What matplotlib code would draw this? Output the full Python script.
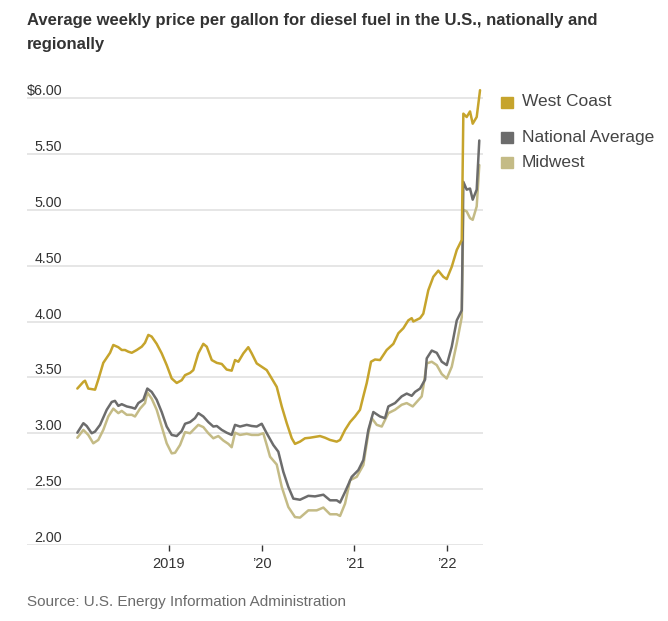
import matplotlib
matplotlib.use("Agg")
import matplotlib.pyplot as plt

# ---------------- data (decimal years, $/gallon) ----------------
wc_t = [2018.011, 2018.076, 2018.094, 2018.129, 2018.202, 2018.237, 2018.291, 2018.364, 2018.399,
        2018.453, 2018.490, 2018.525, 2018.561, 2018.598, 2018.652, 2018.706, 2018.741, 2018.777,
        2018.813, 2018.867, 2018.921, 2018.975, 2019.029, 2019.083, 2019.137, 2019.173, 2019.227,
        2019.262, 2019.316, 2019.370, 2019.407, 2019.461, 2019.515, 2019.569, 2019.622, 2019.676,
        2019.712, 2019.748, 2019.802, 2019.855, 2019.892, 2019.946, 2020.000, 2020.054, 2020.108,
        2020.162, 2020.216, 2020.270, 2020.324, 2020.359, 2020.413, 2020.467, 2020.521, 2020.629,
        2020.683, 2020.737, 2020.809, 2020.845, 2020.899, 2020.953, 2021.006, 2021.060, 2021.096,
        2021.133, 2021.179, 2021.222, 2021.276, 2021.348, 2021.420, 2021.474, 2021.528, 2021.581,
        2021.618, 2021.635, 2021.708, 2021.743, 2021.797, 2021.851, 2021.905, 2021.959, 2021.996,
        2022.050, 2022.104, 2022.158, 2022.175, 2022.211, 2022.247, 2022.276, 2022.319, 2022.355]
wc_v = [3.40, 3.46, 3.47, 3.40, 3.39, 3.48, 3.63, 3.72, 3.79,
        3.77, 3.745, 3.745, 3.73, 3.72, 3.745, 3.775, 3.81, 3.88,
        3.865, 3.80, 3.715, 3.61, 3.49, 3.45, 3.475, 3.52, 3.54,
        3.565, 3.715, 3.80, 3.775, 3.655, 3.63, 3.62, 3.57, 3.56,
        3.655, 3.64, 3.715, 3.77, 3.715, 3.625, 3.595, 3.565, 3.49,
        3.415, 3.24, 3.09, 2.955, 2.905, 2.925, 2.955, 2.96, 2.975,
        2.96, 2.94, 2.925, 2.94, 3.03, 3.10, 3.15, 3.21, 3.33,
        3.45, 3.64, 3.66, 3.655, 3.745, 3.80, 3.895, 3.94, 4.01,
        4.03, 4.00, 4.03, 4.07, 4.28, 4.40, 4.455, 4.40, 4.38,
        4.49, 4.64, 4.73, 5.86, 5.83, 5.88, 5.77, 5.83, 6.07]

nat_t = [2018.011, 2018.076, 2018.112, 2018.166, 2018.202, 2018.256, 2018.328, 2018.382, 2018.417,
         2018.453, 2018.490, 2018.544, 2018.598, 2018.633, 2018.669, 2018.723, 2018.766, 2018.813,
         2018.867, 2018.921, 2018.975, 2019.029, 2019.083, 2019.137, 2019.173, 2019.227, 2019.280,
         2019.316, 2019.370, 2019.424, 2019.478, 2019.515, 2019.569, 2019.622, 2019.676, 2019.712,
         2019.766, 2019.838, 2019.892, 2019.946, 2020.000, 2020.054, 2020.125, 2020.179, 2020.233,
         2020.287, 2020.341, 2020.413, 2020.503, 2020.575, 2020.665, 2020.737, 2020.809, 2020.845,
         2020.899, 2020.971, 2021.042, 2021.096, 2021.150, 2021.204, 2021.276, 2021.330, 2021.366,
         2021.438, 2021.510, 2021.564, 2021.618, 2021.654, 2021.708, 2021.762, 2021.780, 2021.834,
         2021.888, 2021.942, 2021.996, 2022.050, 2022.104, 2022.158, 2022.175, 2022.211, 2022.247,
         2022.276, 2022.319, 2022.347]
nat_v = [3.005, 3.09, 3.065, 3.00, 3.015, 3.075, 3.21, 3.28, 3.29,
         3.245, 3.26, 3.24, 3.23, 3.22, 3.27, 3.30, 3.40, 3.37,
         3.30, 3.19, 3.06, 2.985, 2.975, 3.02, 3.085, 3.10, 3.135,
         3.18, 3.15, 3.10, 3.06, 3.065, 3.03, 3.005, 2.985, 3.075,
         3.06, 3.075, 3.065, 3.06, 3.085, 3.00, 2.895, 2.835, 2.655,
         2.52, 2.415, 2.405, 2.44, 2.435, 2.45, 2.40, 2.40, 2.38,
         2.475, 2.61, 2.67, 2.76, 3.03, 3.19, 3.15, 3.135, 3.24,
         3.27, 3.33, 3.355, 3.335, 3.37, 3.40, 3.48, 3.67, 3.74,
         3.72, 3.64, 3.61, 3.775, 4.01, 4.10, 5.25, 5.18, 5.19,
         5.09, 5.18, 5.62]

mw_t = [2018.011, 2018.076, 2018.129, 2018.183, 2018.237, 2018.291, 2018.345, 2018.399, 2018.453,
        2018.490, 2018.544, 2018.598, 2018.633, 2018.687, 2018.741, 2018.766, 2018.813, 2018.867,
        2018.921, 2018.975, 2019.029, 2019.065, 2019.119, 2019.173, 2019.227, 2019.280, 2019.316,
        2019.370, 2019.424, 2019.478, 2019.532, 2019.586, 2019.640, 2019.676, 2019.712, 2019.766,
        2019.838, 2019.892, 2019.963, 2020.017, 2020.054, 2020.090, 2020.162, 2020.216, 2020.287,
        2020.359, 2020.413, 2020.503, 2020.593, 2020.665, 2020.737, 2020.809, 2020.845, 2020.899,
        2020.953, 2021.025, 2021.096, 2021.150, 2021.187, 2021.241, 2021.295, 2021.366, 2021.438,
        2021.510, 2021.564, 2021.629, 2021.672, 2021.726, 2021.743, 2021.780, 2021.834, 2021.888,
        2021.942, 2021.996, 2022.050, 2022.104, 2022.158, 2022.175, 2022.211, 2022.247, 2022.276,
        2022.319, 2022.347]
mw_v = [2.96, 3.03, 2.985, 2.91, 2.94, 3.03, 3.15, 3.22, 3.18,
        3.20, 3.165, 3.165, 3.15, 3.22, 3.27, 3.365, 3.31, 3.21,
        3.06, 2.91, 2.82, 2.825, 2.895, 3.01, 3.00, 3.045, 3.075,
        3.055, 3.00, 2.955, 2.975, 2.935, 2.905, 2.875, 3.005, 2.985,
        2.995, 2.985, 2.985, 3.00, 2.895, 2.79, 2.72, 2.52, 2.34,
        2.25, 2.245, 2.31, 2.31, 2.335, 2.275, 2.275, 2.26, 2.37,
        2.58, 2.61, 2.715, 3.00, 3.135, 3.075, 3.06, 3.18, 3.21,
        3.255, 3.27, 3.24, 3.28, 3.33, 3.415, 3.625, 3.64, 3.61,
        3.53, 3.49, 3.595, 3.805, 4.04, 5.00, 4.985, 4.925, 4.91,
        5.03, 5.40]

series_names = ["West Coast", "National Average", "Midwest"]
series_colors = ["#c6a42c", "#6c6c6c", "#c4bb86"]

y_ticks = [2.0, 2.5, 3.0, 3.5, 4.0, 4.5, 5.0, 5.5, 6.0]
y_labels = ["2.00", "2.50", "3.00", "3.50", "4.00", "4.50", "5.00", "5.50", "$6.00"]
x_ticks = [2019, 2020, 2021, 2022]
x_labels = ["2019", "\u201920", "\u201921", "\u201922"]

title_lines = ["Average weekly price per gallon for diesel fuel in the U.S., nationally and",
               "regionally"]
source = "Source: U.S. Energy Information Administration"

# ---------------- figure ----------------
W, H = 668, 621
fig = plt.figure(figsize=(W / 100, H / 100), dpi=100)
fig.patch.set_facecolor("white")

def fx(px):
    return px / W

def fy(py):
    return 1 - py / H

plt.rcParams["font.family"] = ["Liberation Sans", "DejaVu Sans"]

ax = fig.add_axes([fx(27), fy(545), fx(483) - fx(27), fy(84.6) - fy(545)])
ax.set_xlim(2017.468, 2022.387)
ax.set_ylim(2.0, 6.12)
for s in ax.spines.values():
    s.set_visible(False)

ax.set_yticks(y_ticks)
ax.set_yticklabels(y_labels)
ax.yaxis.grid(True, color="#e2e2e2", linewidth=1.2)
ax.set_axisbelow(True)
# pad is in points: -35 px = -25.2 pt -> labels end ~35 px right of the axis edge
ax.tick_params(axis="y", length=0, pad=-25.2, labelsize=10.3, labelcolor="#333333")
for lab in ax.get_yticklabels():
    lab.set_verticalalignment("bottom")
    lab.set_horizontalalignment("right")

ax.set_xticks(x_ticks)
ax.set_xticklabels(x_labels)
ax.tick_params(axis="x", length=4, width=1, color="#333333", pad=5,
               labelsize=10.5, labelcolor="#333333")

for t, v, c in [(mw_t, mw_v, series_colors[2]), (nat_t, nat_v, series_colors[1]),
                (wc_t, wc_v, series_colors[0])]:
    ax.plot(t, v, color=c, linewidth=1.8, solid_joinstyle="round", solid_capstyle="round",
            clip_on=False)

# title (two lines)
for line, yy in zip(title_lines, [20, 45]):
    fig.text(fx(27), fy(yy), line, ha="left", va="center", fontsize=12, fontweight="bold",
             color="#333333")

# legend (manual)
leg_y = [102, 137.5, 162]
for name, c, yy in zip(series_names, series_colors, leg_y):
    fig.patches.append(matplotlib.patches.Rectangle((fx(501), fy(yy + 5.5)), fx(12), 11 / H,
                                                    transform=fig.transFigure, color=c))
    fig.text(fx(522), fy(yy), name, ha="left", va="center", fontsize=12.5, color="#444444")

fig.text(fx(27), fy(602), source, ha="left", va="center", fontsize=11, color="#6b6b6b")

fig.savefig("out.png", dpi=100, facecolor="white")
